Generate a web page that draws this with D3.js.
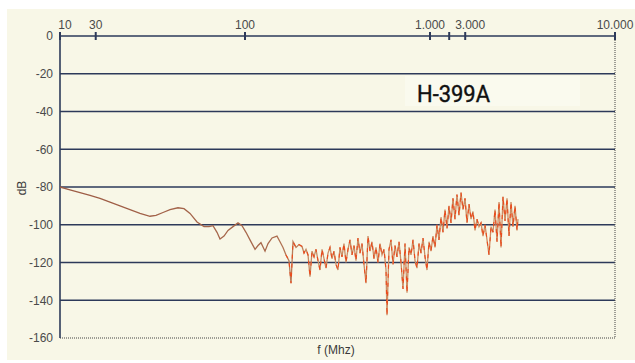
<!DOCTYPE html>
<html>
<head>
<meta charset="utf-8">
<script src="https://cdn.jsdelivr.net/npm/d3@7"></script>
<style>
  body { margin: 0; background: #fff; }
  svg { display: block; font-family: "Liberation Sans", Arial, sans-serif; }
</style>
</head>
<body>
<div id="chart"></div>
<script>
// frequency (MHz) and level (dB)
const freq = [
  10, 11.32, 12.83, 14.53, 16.45, 18.63, 21.1, 23.9, 27.06, 30.65,
  33.03, 36.04, 39.32, 43.43, 46.81, 50.44, 55.03, 60.03, 63.9, 67.14,
  70.57, 73.28, 77.02, 80.94, 86.13, 91.66, 96.34, 101.25, 106.4, 113.3,
  117.6, 122, 128.3, 133.2, 140, 148.9, 154.6, 160.5, 166.6, 172.9,
  177.3, 181.8, 188.7, 195.9, 203.3, 208.5, 213.7, 219.1, 224.6, 230.3,
  236.1, 242, 248.1, 254.4, 260.8, 267.3, 274.1, 281, 288, 295.3,
  302.7, 310.4, 318.2, 326.2, 334.4, 342.8, 351.5, 360.4, 369.5, 378.8,
  388.3, 398.1, 408.1, 418.4, 428.9, 439.7, 450.9, 462.2, 473.9, 485.8,
  498.1, 510.6, 523.5, 536.7, 550.2, 564.2, 578.4, 585.6, 600.4, 615.5,
  631, 646.9, 663.2, 680, 697.1, 714.8, 732.8, 751.3, 770.2, 789.6,
  809.5, 829.9, 850.8, 872.3, 894.3, 916.8, 939.8, 963.5, 987.6, 1012,
  1038, 1064, 1091, 1118, 1147, 1176, 1205, 1236, 1267, 1299,
  1331, 1365, 1399, 1435, 1471, 1508, 1546, 1585, 1625, 1666,
  1708, 1751, 1795, 1840, 1887, 1934, 1983, 2033, 2084, 2137,
  2191, 2246, 2303, 2361, 2420, 2481, 2544, 2608, 2673, 2741,
  2810, 2881, 2953, 2990
];
const level = [
  -80, -81.5, -83, -84.5, -86, -88, -90, -92, -94, -95.5,
  -95, -93.5, -92, -91, -91.5, -94, -98.5, -101, -101, -100.5,
  -104, -107.5, -106, -103, -101, -99, -100.5, -104, -108, -113,
  -111, -109.5, -114, -110, -107, -106, -109, -112, -116, -119,
  -131, -109, -112, -110.5, -111.5, -115, -113, -116, -127.5, -114,
  -117, -113, -119, -124, -113, -118, -123, -115, -112, -118,
  -114, -121, -124, -112, -117, -110, -120, -113, -108, -116,
  -111, -119, -107, -115, -110, -121, -131, -106, -114, -109,
  -118, -112, -120, -110, -116, -113, -124, -148, -113, -108,
  -121, -111, -117, -109, -120, -134, -110, -136, -112, -116,
  -108, -119, -123, -110, -115, -107, -117, -124, -109, -114,
  -106, -112, -100, -108, -96, -104, -92, -102, -90, -99,
  -86, -97, -84, -95, -83, -92, -86, -99, -89, -97,
  -93, -103, -97, -101, -99, -106, -100, -108, -116, -101,
  -104, -92, -109, -88, -112, -85, -98, -86, -106, -88,
  -101, -90, -103, -97
];

const yTicks = [0, -20, -40, -60, -80, -100, -120, -140, -160];
const xTicks = [10, 15.6, 100, 1000, 1270, 1550, 10000];
const xTickLabels = ["10", "30", "100", "1.000", "", "3.000", "10.000"];
const title = "H-399A";

const width = 635, height = 363;
const plotLeft = 60, plotRight = 615, plotTop = 36, plotBottom = 338;

const svg = d3.select("#chart").append("svg")
  .attr("width", width)
  .attr("height", height);

// paper background
svg.append("rect")
  .attr("x", 7).attr("y", 9)
  .attr("width", width - 7).attr("height", 351)
  .attr("fill", "#f8f7e7");

const x = d3.scaleLog().domain([10, 10000]).range([plotLeft, plotRight]);
const y = d3.scaleLinear().domain([-160, 0]).range([plotBottom, plotTop]);

const gridColor = "#2d3a5a";

// faint label patch behind the title
svg.append("rect")
  .attr("x", 405).attr("y", 76)
  .attr("width", 175).attr("height", 30)
  .attr("fill", "#fafaee");

// horizontal grid lines
svg.append("g")
  .selectAll("line")
  .data(yTicks.filter(d => d !== -160))
  .enter()
  .append("line")
  .attr("x1", plotLeft).attr("x2", plotRight)
  .attr("y1", d => y(d)).attr("y2", d => y(d))
  .attr("stroke", gridColor)
  .attr("stroke-width", 1.6);

// dotted bottom and right border
svg.append("line")
  .attr("x1", plotLeft).attr("x2", plotRight)
  .attr("y1", y(-160)).attr("y2", y(-160))
  .attr("stroke", "#444").attr("stroke-width", 1)
  .attr("stroke-dasharray", "1,1");
svg.append("line")
  .attr("x1", plotRight).attr("x2", plotRight)
  .attr("y1", plotTop).attr("y2", plotBottom)
  .attr("stroke", "#444").attr("stroke-width", 1)
  .attr("stroke-dasharray", "1,1");

// left axis line
svg.append("line")
  .attr("x1", plotLeft).attr("x2", plotLeft)
  .attr("y1", plotTop - 1).attr("y2", plotBottom)
  .attr("stroke", gridColor)
  .attr("stroke-width", 1.6);

// y axis labels (plain hyphen minus as in the scan)
const yAxis = svg.append("g")
  .attr("transform", "translate(" + plotLeft + ",0)")
  .call(d3.axisLeft(y).tickValues(yTicks).tickSize(0).tickPadding(7)
    .tickFormat(d => String(d)));
yAxis.select(".domain").remove();
yAxis.selectAll("text")
  .attr("font-size", 12)
  .attr("font-family", "Liberation Sans, Arial, sans-serif")
  .attr("fill", "#4a4a4a");

// top x axis with small tick marks
svg.selectAll(".xtick")
  .data(xTicks)
  .enter()
  .append("line")
  .attr("class", "xtick")
  .attr("x1", d => x(d)).attr("x2", d => x(d))
  .attr("y1", plotTop - 4).attr("y2", plotTop + 4)
  .attr("stroke", gridColor)
  .attr("stroke-width", 2);

svg.selectAll(".xlabel")
  .data(xTicks)
  .enter()
  .append("text")
  .attr("class", "xlabel")
  .attr("x", (d, i) => x(d) + (i === 0 ? 5 : (i === 5 ? 5 : 0)))
  .attr("y", 29)
  .attr("text-anchor", "middle")
  .attr("font-size", 12)
  .attr("fill", "#4a4a4a")
  .text((d, i) => xTickLabels[i]);

// axis titles
svg.append("text")
  .attr("transform", "translate(26,188) rotate(-90)")
  .attr("text-anchor", "middle")
  .attr("font-size", 12)
  .attr("fill", "#3a3a3a")
  .text("dB");

svg.append("text")
  .attr("x", 336).attr("y", 354)
  .attr("text-anchor", "middle")
  .attr("font-size", 12)
  .attr("fill", "#3a3a3a")
  .text("f (Mhz)");

// title
svg.append("text")
  .attr("x", 417).attr("y", 102)
  .attr("font-size", 23)
  .attr("font-family", "Roboto, Liberation Sans, Arial, sans-serif")
  .attr("textLength", 73)
  .attr("lengthAdjust", "spacingAndGlyphs")
  .attr("fill", "#111")
  .attr("stroke", "#111")
  .attr("stroke-width", 0.4)
  .text(title);

// the trace
const data = freq.map((f, i) => ({ f: f, v: level[i] }));
const line = d3.line()
  .x(d => x(d.f))
  .y(d => y(d.v));

const defs = svg.append("defs");
const grad = defs.append("linearGradient")
  .attr("id", "trace")
  .attr("gradientUnits", "userSpaceOnUse")
  .attr("x1", plotLeft).attr("x2", plotRight)
  .attr("y1", 0).attr("y2", 0);
grad.append("stop").attr("offset", "0%").attr("stop-color", "#9c5b45");
grad.append("stop").attr("offset", "38%").attr("stop-color", "#a96a4d");
grad.append("stop").attr("offset", "46%").attr("stop-color", "#c98f66");
grad.append("stop").attr("offset", "100%").attr("stop-color", "#cf8a60");

defs.append("clipPath")
  .attr("id", "hf")
  .append("rect")
  .attr("x", 285).attr("y", plotTop)
  .attr("width", plotRight - 285).attr("height", plotBottom - plotTop);

svg.append("path")
  .datum(data)
  .attr("d", line)
  .attr("fill", "none")
  .attr("stroke", "url(#trace)")
  .attr("stroke-width", 1.3);

svg.append("path")
  .datum(data)
  .attr("d", line)
  .attr("clip-path", "url(#hf)")
  .attr("fill", "none")
  .attr("stroke", "#ec4a1c")
  .attr("stroke-width", 1.1)
  .attr("stroke-dasharray", "4,5");
</script>
</body>
</html>
